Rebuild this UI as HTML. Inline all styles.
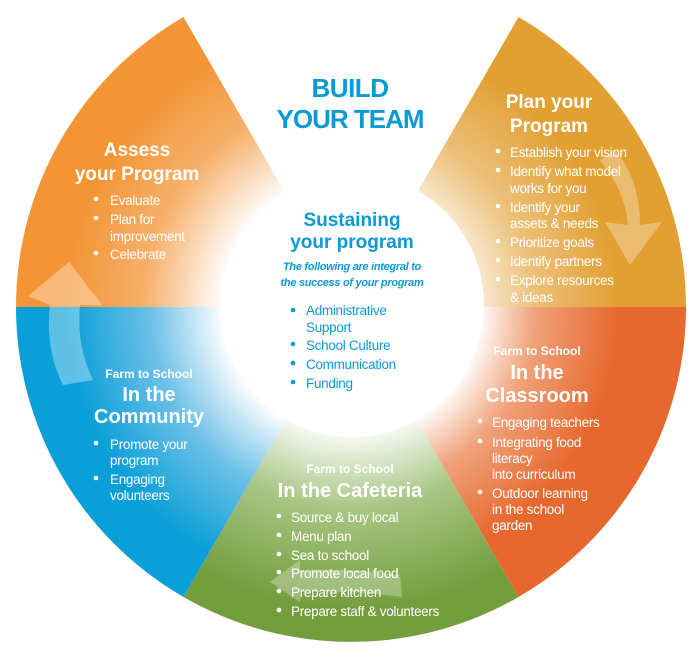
<!DOCTYPE html>
<html><head><meta charset="utf-8"><style>
html,body{margin:0;padding:0;background:#fff;}
svg{display:block;}
text{font-family:"Liberation Sans",sans-serif;}
.t{fill:#fff;font-weight:bold;text-anchor:middle;}
.b{fill:#fff;font-size:13.5px;letter-spacing:-0.3px;}
.bl{fill:#0a9ad6;font-size:13.5px;letter-spacing:-0.3px;}
</style></head><body>
<svg width="700" height="660" viewBox="0 0 700 660" xmlns="http://www.w3.org/2000/svg">
<defs>
<radialGradient id="gA" cx="351" cy="307" r="335" gradientUnits="userSpaceOnUse"><stop offset="0.38" stop-color="#fff"/><stop offset="0.62" stop-color="#f6b06a"/><stop offset="0.85" stop-color="#f39535"/></radialGradient>
<radialGradient id="gP" cx="351" cy="307" r="335" gradientUnits="userSpaceOnUse"><stop offset="0.3" stop-color="#fff"/><stop offset="0.55" stop-color="#ecc07a"/><stop offset="0.8" stop-color="#e2a033"/></radialGradient>
<radialGradient id="gC" cx="351" cy="307" r="335" gradientUnits="userSpaceOnUse"><stop offset="0.38" stop-color="#fff"/><stop offset="0.55" stop-color="#f0a27a"/><stop offset="0.8" stop-color="#e7682e"/></radialGradient>
<radialGradient id="gF" cx="351" cy="307" r="335" gradientUnits="userSpaceOnUse"><stop offset="0.36" stop-color="#fff"/><stop offset="0.6" stop-color="#a9c684"/><stop offset="0.9" stop-color="#749e3e"/></radialGradient>
<radialGradient id="gB" cx="351" cy="307" r="335" gradientUnits="userSpaceOnUse"><stop offset="0.38" stop-color="#fff"/><stop offset="0.6" stop-color="#6cc0e8"/><stop offset="0.85" stop-color="#0a9fd8"/></radialGradient>
</defs>
<!-- segments: center (351,307), r 335 -->
<path d="M351,307 L183.5,17 A335,335 0 0 0 16,307 Z" fill="url(#gA)"/>
<path d="M351,307 L518.5,17 A335,335 0 0 1 686,307 Z" fill="url(#gP)"/>
<path d="M351,307 L686,307 A335,335 0 0 1 518.5,597 Z" fill="url(#gC)"/>
<path d="M351,307 L518.5,597 A335,335 0 0 1 183.5,597 Z" fill="url(#gF)"/>
<path d="M351,307 L183.5,597 A335,335 0 0 1 16,307 Z" fill="url(#gB)"/>
<!-- arrows -->
<path d="M69,262 L28,296 L50,305 Q45,350 63,385 L93,380 Q76,345 80,305 L102,305 Z" fill="#fff" opacity="0.35"/>
<path d="M600,160 Q625,190 628,225 L605,222 L630,265 L662,222 L640,225 Q640,180 615,150 Z" fill="#fff" opacity="0.3"/>
<path d="M270,582 L300,560 L300,570 Q350,568 400,575 L402,597 Q350,590 300,592 L300,602 Z" fill="#fff" opacity="0.28"/>
<!-- inner circle -->
<circle cx="352" cy="305" r="132" fill="#fff"/>
<!-- Build your team -->
<text x="350" y="97" font-size="26" font-weight="bold" fill="#0a9ad6" text-anchor="middle" letter-spacing="-0.5">BUILD</text>
<text x="350" y="128" font-size="26" font-weight="bold" fill="#0a9ad6" text-anchor="middle" letter-spacing="-1">YOUR TEAM</text>
<!-- Assess -->
<text class="t" x="137" y="156" font-size="19">Assess</text>
<text class="t" x="137" y="180" font-size="19">your Program</text>
<g class="b"><circle cx="96" cy="199" r="2.3" fill="#fff"/><text class="b" x="110" y="205">Evaluate</text>
<circle cx="96" cy="218" r="2.3" fill="#fff"/><text class="b" x="110" y="224">Plan for</text><text class="b" x="110" y="241">improvement</text>
<circle cx="96" cy="253" r="2.3" fill="#fff"/><text class="b" x="110" y="259">Celebrate</text></g>
<!-- Plan -->
<text class="t" x="549" y="108" font-size="19">Plan your</text>
<text class="t" x="549" y="132" font-size="19">Program</text>
<g fill="#fff">
<circle cx="498" cy="151" r="2.3"/><circle cx="498" cy="170" r="2.3"/><circle cx="498" cy="206" r="2.3"/><circle cx="498" cy="241" r="2.3"/><circle cx="498" cy="260" r="2.3"/><circle cx="498" cy="279" r="2.3"/></g>
<text class="b" x="510" y="157">Establish your vision</text>
<text class="b" x="510" y="176">Identify what model</text>
<text class="b" x="510" y="193">works for you</text>
<text class="b" x="510" y="212">Identify your</text>
<text class="b" x="510" y="228">assets &amp; needs</text>
<text class="b" x="510" y="247">Prioritize goals</text>
<text class="b" x="510" y="266">Identify partners</text>
<text class="b" x="510" y="285">Explore resources</text>
<text class="b" x="510" y="302">&amp; ideas</text>
<!-- Sustaining -->
<text x="352" y="226" font-size="19" font-weight="bold" fill="#0a9ad6" text-anchor="middle">Sustaining</text>
<text x="352" y="248" font-size="19" font-weight="bold" fill="#0a9ad6" text-anchor="middle">your program</text>
<text x="352" y="270" font-size="11" font-weight="bold" font-style="italic" fill="#0a9ad6" text-anchor="middle" letter-spacing="-0.3">The following are integral to</text>
<text x="352" y="286" font-size="11" font-weight="bold" font-style="italic" fill="#0a9ad6" text-anchor="middle" letter-spacing="-0.3">the success of your program</text>
<g fill="#0a9ad6"><circle cx="293" cy="310" r="2.3"/><circle cx="293" cy="344" r="2.3"/><circle cx="293" cy="363" r="2.3"/><circle cx="293" cy="382" r="2.3"/></g>
<text class="bl" x="306" y="315">Administrative</text>
<text class="bl" x="306" y="332">Support</text>
<text class="bl" x="306" y="350">School Culture</text>
<text class="bl" x="306" y="369">Communication</text>
<text class="bl" x="306" y="388">Funding</text>
<!-- Community -->
<text class="t" x="149" y="378" font-size="12">Farm to School</text>
<text class="t" x="149" y="401" font-size="20">In the</text>
<text class="t" x="149" y="423" font-size="20">Community</text>
<g fill="#fff"><circle cx="96" cy="443" r="2.3"/><circle cx="96" cy="478" r="2.3"/></g>
<text class="b" x="110" y="449">Promote your</text>
<text class="b" x="110" y="465">program</text>
<text class="b" x="110" y="484">Engaging</text>
<text class="b" x="110" y="500">volunteers</text>
<!-- Classroom -->
<text class="t" x="537" y="355" font-size="12">Farm to School</text>
<text class="t" x="537" y="379" font-size="20">In the</text>
<text class="t" x="537" y="402" font-size="20">Classroom</text>
<g fill="#fff"><circle cx="480" cy="421" r="2.3"/><circle cx="480" cy="441" r="2.3"/><circle cx="480" cy="492" r="2.3"/></g>
<text class="b" x="492" y="427">Engaging teachers</text>
<text class="b" x="492" y="447">Integrating food</text>
<text class="b" x="492" y="463">literacy</text>
<text class="b" x="492" y="479">into curriculum</text>
<text class="b" x="492" y="498">Outdoor learning</text>
<text class="b" x="492" y="514">in the school</text>
<text class="b" x="492" y="530">garden</text>
<!-- Cafeteria -->
<text class="t" x="350" y="473" font-size="12">Farm to School</text>
<text class="t" x="350" y="497" font-size="20">In the Cafeteria</text>
<g fill="#fff"><circle cx="279" cy="516" r="2.3"/><circle cx="279" cy="535" r="2.3"/><circle cx="279" cy="554" r="2.3"/><circle cx="279" cy="572" r="2.3"/><circle cx="279" cy="591" r="2.3"/><circle cx="279" cy="610" r="2.3"/></g>
<text class="b" x="291" y="522">Source &amp; buy local</text>
<text class="b" x="291" y="541">Menu plan</text>
<text class="b" x="291" y="560">Sea to school</text>
<text class="b" x="291" y="578">Promote local food</text>
<text class="b" x="291" y="597">Prepare kitchen</text>
<text class="b" x="291" y="616">Prepare staff &amp; volunteers</text>
</svg>
</body></html>
